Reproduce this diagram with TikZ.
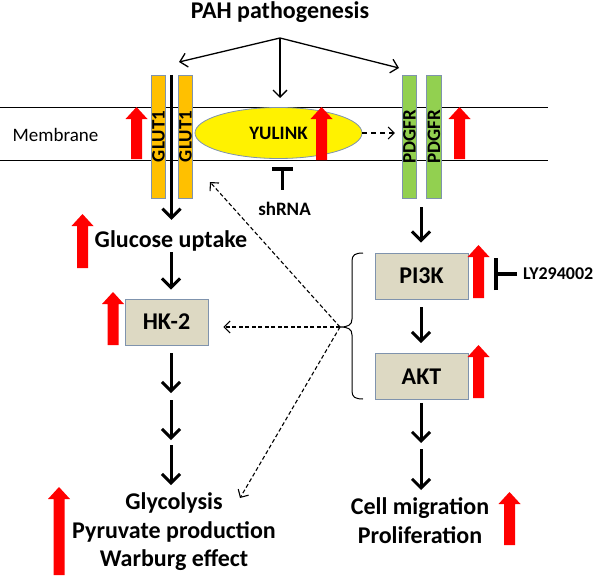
\documentclass[tikz,border=0pt]{standalone}
\usepackage{fontspec}
\setmainfont{Carlito}
\usetikzlibrary{arrows.meta,shapes.geometric}
\definecolor{glut}{HTML}{FFC000}
\definecolor{pdg}{HTML}{92D050}
\definecolor{boxfill}{HTML}{DDD9C3}
\definecolor{edgec}{HTML}{7F93AD}
\newcommand\RArrow[3]{\fill[red] ({#1-5.5},#3) -- ({#1-5.5},{#2+12}) -- ({#1-11},{#2+12}) -- (#1,#2) -- ({#1+11},{#2+12}) -- ({#1+5.5},{#2+12}) -- ({#1+5.5},#3) -- cycle;}
\begin{document}
\begin{tikzpicture}[x=1pt,y=-1pt,
  bigfont/.style={font=\bfseries\fontsize{24}{28.5}\selectfont},
  big/.style={bigfont, inner sep=0pt, text height=17pt, text depth=5pt, anchor=base},
  bar/.style={draw=edgec, line width=0.6pt, rotate=90, minimum width=123pt, minimum height=14.5pt, inner sep=0pt, font=\bfseries\fontsize{19}{20}\selectfont},
  box/.style={draw=edgec, fill=boxfill, line width=0.8pt, minimum width=93pt, minimum height=46pt, inner sep=0pt, bigfont},
  blk/.style={line width=3pt, -{Straight Barb[length=9pt,width=18pt]}},
  thinarr/.style={line width=1.3pt, -{Straight Barb[length=7pt,width=14pt]}},
  dsh/.style={line width=1.1pt, dash pattern=on 4pt off 2.5pt, -{Straight Barb[length=6pt,width=12pt]}},
  inh/.style={line width=3.5pt},
]
\useasboundingbox (0,0) rectangle (597,578);

% title and fork
\node[bigfont, inner sep=0pt] (title) at (280,12) {PAH pathogenesis};
\coordinate (fork) at (280,38);
\coordinate (gluttop) at (179,62);
\coordinate (yultop) at (280,98);
\coordinate (pdgtop) at (399,68);
\draw[thinarr] (fork) -- (gluttop);
\draw[thinarr] (fork) -- (yultop);
\draw[thinarr] (fork) -- (pdgtop);

% membrane
\draw[line width=1pt] (0,107) -- (548,107);
\draw[line width=1pt] (0,160) -- (548,160);
\node[font=\fontsize{19}{22}\selectfont, inner sep=0pt] (mem) at (55.5,135) {Membrane};

% GLUT1
\node[bar, fill=glut] (g1) at (158.5,136.5) {GLUT1};
\node[bar, fill=glut] (g2) at (185.5,136.5) {GLUT1};
\coordinate (gline) at (171.5,75);

% YULINK
\node[ellipse, fill=yellow, draw=edgec, line width=0.8pt, minimum width=167pt, minimum height=51pt, inner sep=0pt, font=\bfseries\fontsize{19}{21}\selectfont] (yul) at (278.5,133) {YULINK};

% PDGFR
\node[bar, fill=pdg] (p1) at (409.5,136.5) {PDGFR};
\node[bar, fill=pdg] (p2) at (434,136.5) {PDGFR};
\draw[dsh, dash pattern=on 5pt off 4pt, shorten >=7pt] (yul.east) -- (yul.east -| p1.north);

% shRNA
\node[font=\bfseries\fontsize{19}{21}\selectfont, inner sep=0pt, text height=14pt, text depth=4pt, anchor=base] (sh) at (284.5,215) {shRNA};
\draw[inh, -{Bar[width=21pt]}, shorten <=11pt, shorten >=8.5pt] ([xshift=-2pt]sh.north) -- ([xshift=-2pt]sh.north |- yul.south);

% left column
\node[big] (glu) at (171,247) {Glucose uptake};
\draw[blk, shorten >=10pt] (gline) -- (glu.north -| gline);
\node[box, minimum width=83pt] (hk) at (166.5,322) {HK-2};
\draw[blk, shorten >=9pt] (glu.south) -- (glu.south |- hk.north);
\coordinate (s1) at (171,396.5);
\coordinate (s2) at (171,442.5);
\draw[blk, shorten <=8pt, shorten >=3.5pt] (hk.south -| s1) -- (s1);
\draw[blk, shorten <=3.5pt, shorten >=2.5pt] (s1) -- (s2);
\node[bigfont, inner sep=0pt, align=center, anchor=north] (gly) at (174,492.5) {Glycolysis\\Pyruvate production\\Warburg effect};
\draw[blk, shorten <=2.5pt, shorten >=7.5pt] (s2) -- (s2 |- gly.north);

% right column
\coordinate (pdgbot) at (421,207);
\node[box] (pi) at (421.5,276) {PI3K};
\node[box] (akt) at (421.5,376.5) {AKT};
\draw[blk, shorten >=10pt] (pdgbot) -- (pdgbot |- pi.north);
\draw[blk, shorten <=8pt, shorten >=10pt] (pi.south -| pdgbot) -- (akt.north -| pdgbot);
\coordinate (r1) at (421,446);
\draw[blk, shorten <=3pt, shorten >=3pt] (akt.south -| r1) -- (r1);
\node[bigfont, inner sep=0pt, align=center, anchor=north] (cell) at (420,497.5) {Cell migration\\Proliferation};
\draw[blk, shorten <=3pt, shorten >=7.5pt] (r1) -- (r1 |- cell.north);

% LY294002
\node[font=\bfseries\fontsize{18}{20}\selectfont, inner sep=0pt, anchor=west] (ly) at (523,274) {LY294002};
\draw[inh, -{Bar[width=32pt]}, shorten <=6pt, shorten >=26pt] (ly.west) -- (ly.west -| pi.east);

% brace
\coordinate (bt) at (340,327);
\draw[line width=1pt] (363,253) .. controls (355,253) and (352,255) .. (352,261) -- (352,319) .. controls (352,325) and (348,327) .. (bt) .. controls (348,327) and (352,329) .. (352,335) -- (352,391) .. controls (352,397) and (355,399) .. (363,399);

% dashed arrows
\coordinate (gluthit) at (210,182);
\coordinate (glyhit) at (240,498);
\draw[dsh, shorten >=15pt] (bt) -- (bt -| hk.east);
\draw[dsh] (bt) -- (gluthit);
\draw[dsh] (bt) -- (glyhit);

% red arrows
\RArrow{136.5}{107}{159}
\RArrow{321.5}{107}{160}
\RArrow{459.5}{107}{159}
\RArrow{82.5}{214}{268}
\RArrow{113}{292}{345}
\RArrow{59}{487}{575}
\RArrow{478.5}{245}{298}
\RArrow{478.5}{345}{398}
\RArrow{509.5}{492}{545}
\end{tikzpicture}
\end{document}
